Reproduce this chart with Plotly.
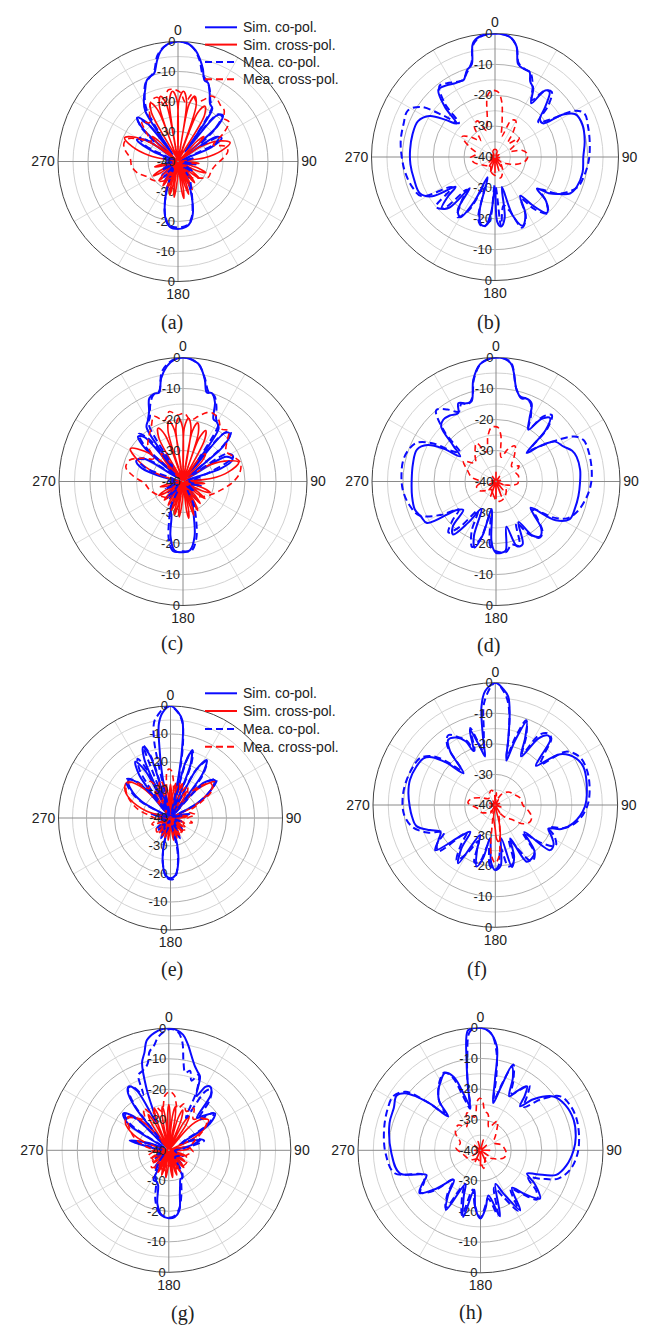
import plotly.graph_objects as go

# ---------------- data: angle (deg, clockwise from 0) and level (dB) ----------------
# Panel (a)
a_sim_co_theta = [-180,-173,-167,-162,-157,-152,-145,-138,-130,-122,-114,-106,-98,-90,-82,-74,-68,-62,-56,-51,-47,-43,-39,-36,-33,-29,-25,-21,-18,-15,-12,-9,-5,0,5,9,12,15,18,21,25,29,33,36,40,44,48,52,57,62,67,72,80,90,100,110,120,130,140,148,154,159,164,168,173,180]
a_sim_co_r = [-17.5,-18,-21,-26,-31,-36,-32,-38,-33,-39,-35,-39,-36,-39,-36,-39,-31,-24.5,-27,-39,-24,-20,-23,-37,-20,-16.5,-14,-11,-10.2,-9.5,-6,-2.8,-0.7,0,-0.6,-2.5,-5,-8,-11.5,-12,-15,-18,-19,-36,-20,-18.5,-22,-38,-25,-23.5,-28,-39,-35,-38,-34,-39,-35,-39,-33,-38,-32,-27,-22,-19.5,-18,-17.5]
a_sim_cross_theta = [-180,-176,-174,-172,-170,-168,-166,-164,-162,-160,-158,-156,-153,-150.5,-148,-145.5,-142,-138,-135,-132,-128,-123,-120,-117,-112,-106,-103,-100,-94,-86,-78,-72,-66,-60,-55,-52,-49,-46,-43,-37,-28.5,-25,-21.5,-20,-18.5,-15,-11.5,-10,-8,-4.5,-1,0,1,4.5,8,9.5,11,14.5,18,20,22,26,30,33,43,46,49,52,57,63,70,76,82,86,92,95,98,102,108,112,116,120,125,128,131,135,139,142,145,149,151,153,155,158,160,162,164,167,169,171,173,176,180]
a_sim_cross_r = [-36,-31,-28,-31,-39.5,-31.5,-28.5,-31.5,-39.5,-32,-29.5,-32,-39.5,-33,-30.5,-33,-39.5,-33.5,-31,-33.5,-39.5,-33,-30.5,-33,-39.5,-34.5,-32,-34.5,-39.5,-39,-30,-24,-20.5,-24,-30,-39.5,-31,-28,-31,-39.5,-21.5,-18.5,-21.5,-39.5,-20.5,-17.5,-20.5,-39.5,-19.5,-16.5,-19.5,-38,-19.5,-16.5,-19.5,-39.5,-20.5,-17.5,-20.5,-39.5,-22.5,-19.5,-22.5,-39.5,-31,-28,-31,-39.5,-31,-25,-21.5,-25,-31,-39.5,-35.5,-33,-35.5,-39.5,-33,-30,-33,-39.5,-34,-31,-34,-39.5,-34,-31,-34,-39.5,-32,-29.5,-32,-39.5,-31.5,-28.5,-31.5,-39.5,-30.5,-27.5,-30.5,-39.5,-36]
a_mea_co_theta = [-180,-172,-166,-160,-154,-146,-138,-128,-118,-108,-98,-88,-78,-70,-64,-58,-52,-47,-43,-39,-35,-31,-27,-23,-19,-15,-11,-7,-3,0,4,8,12,16,20,24,28,32,36,40,44,49,54,59,64,70,78,88,100,112,124,136,146,154,160,166,172,180]
a_mea_co_r = [-18,-18.5,-22,-28,-34,-37,-33,-38,-34,-38,-35,-38,-35,-37,-28,-25,-30,-23,-20.5,-24,-30,-19.5,-15.5,-12,-10.5,-9,-4,-1.5,-0.3,0,-0.4,-2,-5.5,-10,-11.5,-14,-17,-18.5,-30,-19.5,-19,-24,-31,-24,-26,-37,-35,-38,-35,-38,-34,-37,-33,-30,-26,-21,-18.5,-18]
a_mea_cross_theta = [-180,-165,-150,-138,-126,-116,-106,-96,-86,-78,-72,-66,-60,-54,-48,-42,-36,-30,-24,-18,-13,-8,-3,2,7,12,17,22,27,32,37,42,47,52,58,65,72,78,86,96,106,117,128,140,152,166,180]
a_mea_cross_r = [-37,-35,-33,-31,-29.5,-28.5,-26,-24.5,-24,-22,-21,-21.5,-25,-29,-26,-22,-24,-21,-18,-17.5,-21,-16,-16,-17,-20,-17,-19,-18,-15.5,-15.5,-16.5,-17,-19,-18.5,-22,-27,-23.5,-23,-25,-27.5,-28.5,-28.6,-31,-33,-35,-36,-37]

# Panel (b)
b_sim_co_theta = [-180,-176,-172,-168,-164,-160,-155,-150,-145,-141,-138,-134,-130,-127,-122,-116,-105,-95,-85,-75,-65,-58,-53,-49,-45,-40,-34,-29,-25,-22,-18,-14,-11,-7,0,7,11,14,18,22,25,29,34,37,40,45,50,55,58,62,70,80,90,100,110,116,120,124,127,131,137,142,147,152,158,163,167,171,175,178,180]
b_sim_co_r = [-30,-22,-17.5,-17.8,-22,-33,-24,-17.5,-19,-27,-18,-16,-20,-24,-16,-13,-12.8,-12.5,-12.4,-12.3,-12.5,-15,-20,-23.5,-17,-11.5,-12,-12.8,-13,-13,-10.5,-9,-2.5,-0.6,0,-0.8,-3.5,-9,-10,-10.2,-13,-14.5,-19,-13,-12.5,-17,-21,-21,-14,-10.5,-9.8,-10.5,-11.4,-11.2,-11.8,-13,-16,-19,-23,-18,-15.3,-20,-25,-19,-16,-20,-30,-20,-17.4,-19,-30]
b_sim_cross_theta = [-180,-172,-164,-156,-148,-140,-130,-118,-100,-80,-60,-40,-20,0,20,40,60,80,100,118,130,140,148,156,164,172,180]
b_sim_cross_r = [-35,-39.5,-35.5,-39.5,-36.5,-39.5,-37.5,-39.5,-38.5,-39.5,-38.5,-39.5,-38,-37.5,-38,-39.5,-38.5,-39.5,-38.5,-39.5,-37.5,-39.5,-36.5,-39.5,-35.5,-39.5,-35]
b_mea_co_theta = [-180,-175,-170,-165,-160,-154,-148,-143,-139,-135,-130,-125,-118,-110,-100,-90,-80,-70,-62,-56,-51,-47,-43,-38,-33,-28,-23,-18,-14,-11,-7,0,7,11,14,18,23,28,33,37,41,46,51,56,60,64,72,82,92,102,110,116,121,126,131,137,143,148,153,159,165,170,175,180]
b_mea_co_r = [-31,-19,-17,-19,-30,-21,-17,-22,-26,-16.5,-15,-23,-13,-11.5,-10.5,-9.8,-9,-8.5,-8,-11,-19,-24,-16,-10.8,-11.5,-12.5,-13,-11,-8.5,-3,-0.8,0,-0.8,-3.5,-8.5,-9.8,-10.5,-14,-18,-13,-12,-16,-22,-18,-10,-7.8,-8.3,-9,-9.6,-10.5,-11.5,-14,-17,-22,-18,-15,-19,-24,-18,-15.5,-22,-24,-17.5,-31]
b_mea_cross_theta = [-180,-165,-150,-135,-120,-105,-92,-80,-68,-58,-50,-42,-34,-26,-18,-12,-7,-3,0,3,7,12,18,24,30,36,44,52,60,68,76,84,92,100,110,122,136,150,165,180]
b_mea_cross_r = [-34,-35,-37,-36,-35,-33,-32,-34,-31,-27.5,-30,-33,-28,-27,-31,-28,-20,-18.5,-18.5,-19,-22,-29,-33,-27,-26.5,-30,-34,-30,-33,-35,-31,-29.5,-29.5,-30.5,-33,-36,-37,-35,-33,-34]

# Panel (c)
c_sim_co_theta = [-180,-173,-167,-162,-157,-150,-142,-134,-126,-118,-110,-102,-94,-86,-78,-72,-66,-60,-54,-49,-45,-41,-37,-34,-30,-26,-22,-18,-15,-12,-8,-4,0,4,8,12,15,18,22,26,30,34,37,41,45,49,54,60,66,71,76,84,94,104,114,124,134,144,152,158,163,168,174,180]
c_sim_co_r = [-17.2,-17.6,-22,-28,-30,-36,-33,-38,-34,-39,-35,-39,-36,-39,-34,-26,-23.5,-25,-38,-24,-19.5,-21,-36,-19,-17.3,-15,-11,-10.2,-10.3,-6,-2.5,-0.6,0,-0.6,-2,-6.3,-10.3,-10,-12.5,-17.6,-18,-19.5,-36,-19,-18.5,-23,-38,-24,-22.5,-27,-39,-34,-38,-34,-39,-35,-39,-33,-38,-32,-28,-22,-17.8,-17.2]
c_sim_cross_theta = [-180,-176,-174,-172,-170,-168,-166,-164,-162,-160,-158,-156,-153,-150.5,-148,-145.5,-142,-138,-135,-132,-128,-123,-120,-117,-112,-106,-103,-100,-94,-86,-72,-65,-58,-52,-47,-44,-41,-38,-35,-32,-29,-25,-21,-18.5,-16.5,-13,-9.5,-8.5,-7.5,-4,-0.5,0.5,1.5,5,8.5,9.5,10.5,14,17.5,19,20.5,24,27.5,30,35,39,43,47,57,64,71,78,84,88,92,95,98,102,108,112,116,120,125,128,131,135,139,142,145,149,151,153,155,158,160,162,164,167,169,171,173,176,180]
c_sim_cross_r = [-36,-31,-28.5,-31,-39.5,-31.5,-29,-31.5,-39.5,-32,-30,-32,-39.5,-33,-31,-33,-39.5,-33.5,-31.5,-33.5,-39.5,-33,-31,-33,-39.5,-34.5,-32.5,-34.5,-39.5,-39,-30,-24,-20,-24,-30,-39.5,-31,-28.5,-31,-39.5,-24,-21,-24,-39.5,-23,-20,-23,-39.5,-22.5,-19.5,-22.5,-38,-22.5,-19.5,-22.5,-39.5,-23.5,-20.5,-23.5,-39.5,-25,-22,-25,-39.5,-31,-28.5,-31,-39.5,-31,-25,-21,-25,-31,-39.5,-35.5,-33,-35.5,-39.5,-33,-30.5,-33,-39.5,-34,-31,-34,-39.5,-34,-31,-34,-39.5,-32,-29.5,-32,-39.5,-31.5,-28.5,-31.5,-39.5,-30.5,-28,-30.5,-39.5,-36]
c_mea_co_theta = [-180,-172,-166,-160,-154,-146,-136,-124,-112,-100,-88,-78,-70,-64,-58,-52,-47,-43,-39,-35,-31,-27,-23,-19,-15,-11,-7,-3,0,4,8,12,16,20,24,28,32,36,40,44,48,53,58,64,70,78,90,104,118,132,146,155,161,167,173,180]
c_mea_co_r = [-17.5,-17.3,-21,-27,-31,-37,-33,-38,-34,-38,-35,-37,-27,-24,-27,-37,-23,-19,-22,-34,-18.5,-16.5,-13,-10.5,-10,-4,-1.5,-0.3,0,-0.5,-2.2,-6,-10,-10.5,-13.5,-17.2,-18.5,-32,-20,-17.8,-22,-36,-23,-22,-30,-36,-38,-35,-38,-35,-38,-32,-27,-21,-17.5,-17.5]
c_mea_cross_theta = [-180,-160,-140,-120,-105,-93,-84,-76,-68,-60,-52,-45,-38,-31,-24,-17,-11,-5,1,7,13,19,24,30,36,42,48,55,63,72,82,91,97,105,115,128,142,156,170,180]
c_mea_cross_r = [-37,-34,-33,-31,-29,-27.6,-24,-21,-21.5,-25,-28,-24,-22,-20,-17,-19.5,-17,-18.5,-18,-20,-18.5,-16.5,-16,-17,-19,-18,-21,-23,-22,-20.5,-21.6,-24,-25.9,-28,-30,-32,-34,-35,-36,-37]

# Panel (d)
d_sim_co_theta = [-180,-176,-171,-166,-162,-158,-152,-146,-141,-136,-131,-126,-121,-115,-109,-100,-89,-78,-68,-62,-58,-55,-50,-45,-40.5,-35,-29,-25.7,-21,-17,-12.6,-7.7,0,7,12.7,17,20,24.5,28,32,36,40.4,44,47,51,56,62.5,68,73,82,91,100,109,117,123,127,131,136,141,146,151,157,162,167,172,176,180]
d_sim_co_r = [-17,-20,-31,-22,-17.6,-21,-30,-24,-18,-20,-26,-24.4,-14,-13.3,-12.3,-12.5,-12.8,-12.6,-12.5,-15,-20,-25.9,-22,-15,-13.8,-14,-14.8,-12,-13,-13,-6.4,-1.8,0,-1.5,-9.7,-12,-11.5,-12.3,-17,-20.3,-15,-13.1,-17,-26.5,-22,-17,-15.5,-13.5,-12.8,-12.6,-12.9,-13,-13.1,-13.3,-17,-26,-24,-19,-17.3,-19,-25,-18,-18,-25,-17.5,-16.9,-17]
d_sim_cross_theta = [-180,-170,-160,-150,-140,-128,-114,-96,-76,-56,-36,-18,0,18,36,56,76,96,114,128,140,150,160,170,180]
d_sim_cross_r = [-34.5,-39.5,-35,-39.5,-36.5,-39.5,-37.5,-39.5,-38.5,-39.5,-38,-39.5,-37,-39.5,-38,-39.5,-38.5,-39.5,-37.5,-39.5,-36.5,-39.5,-35,-39.5,-34.5]
d_mea_co_theta = [-180,-175,-170,-165,-160,-154,-148,-142,-137,-132,-127,-121,-114,-105,-95,-85,-77,-70,-64,-59,-55,-51,-46,-40,-34,-28,-24,-20,-16,-12,-7,0,7,12,16,20,24,28,32,36,40,44,47,51,56,60,64.5,72,83,92,101,110,117,122,127,132,137,142,148,154,160,166,172,180]
d_mea_co_r = [-17.5,-19,-29,-21,-17.5,-22,-29,-22,-17.5,-21,-25,-19,-13,-11,-9.8,-9.4,-9.3,-10,-11.5,-16,-23,-25,-17,-10,-12,-14.5,-12.5,-13.5,-12,-6,-1.5,0,-1.2,-9,-11.5,-11.5,-12.5,-16,-20,-14,-12,-16,-25,-22,-16,-11,-8.8,-8.6,-8.9,-9.4,-10.5,-12,-14,-18,-25,-22,-18,-17,-20,-25,-18,-19,-17,-17.5]
d_mea_cross_theta = [-180,-165,-150,-135,-120,-105,-92,-80,-68,-58,-48,-38,-27,-18,-10,-5,-1,2,6,12,20,28,36,46,56,66,76,84,90,96,104,114,126,140,155,170,180]
d_mea_cross_r = [-34,-36,-37,-36,-34,-33.5,-35,-32,-30,-27.6,-31,-29,-26.1,-30,-25,-22.5,-22.3,-22.5,-25,-32,-29,-27,-30,-33,-31,-33,-32.5,-32.8,-32.8,-33,-35,-37,-36,-35,-34,-33.5,-34]

# Panel (e)
e_sim_co_theta = [-180,-175,-170,-166,-163,-158,-155,-152,-148,-140,-135,-130,-125,-110,-95,-85,-78,-72,-66,-60,-54,-48,-43,-40,-38,-36,-32,-28,-26,-24,-21,-18,-15.5,-11,-9,-7,-4,0,4,7,9.5,11,13,15,17.7,20.5,23,28,32,36,39,43,49.5,56,62,66,72,78,84,90,105,120,130,135,140,147,152,155,158,163,166,170,175,180]
e_sim_co_r = [-18.5,-19.5,-24,-30,-39.5,-35,-32,-35,-39.5,-36,-34,-36,-39.5,-36,-39.5,-37,-33,-37,-39.5,-28,-22.5,-19.8,-22.5,-28,-39.5,-21,-16.3,-21,-39.5,-17,-12.8,-17,-39.5,-25,-15,-6,-2,0,-2,-5,-15,-25,-39.5,-19.5,-15.2,-19.5,-39.5,-20.5,-15.6,-20.5,-39.5,-23,-19.2,-23,-30,-39.5,-37,-33,-37,-39.5,-36,-39.5,-36,-34,-36,-39.5,-35,-32,-35,-39.5,-30,-24,-19.5,-18.5]
e_sim_cross_theta = [-180,-176,-174,-172,-169,-166,-164,-162,-159,-156,-154,-152,-149,-146,-143,-140,-136,-132,-129,-126,-122,-116,-113,-110,-105,-96,-92,-88,-83,-74,-65,-57,-50,-44,-39,-36,-33,-30,-27,-24.5,-22,-19,-16,-13.5,-11,-8.5,-6,-4,-2,0,2,4,6,8.5,11,13.5,16,19,22,25,28,31,34,37,40,45,51,57,64,70,78,84,90,95,104,108,112,116,122,125,128,132,136,139,142,146,150,152,154,157,160,162,164,167,170,172,174,177,180]
e_sim_cross_r = [-37,-34,-32,-34,-39.5,-34.5,-32.5,-34.5,-39.5,-35,-33,-35,-39.5,-35,-33.5,-35.5,-39.5,-36,-34.5,-36,-39.5,-36.5,-35,-36.5,-39.5,-37,-35.5,-37,-39.5,-31,-24,-20.5,-20,-24,-31,-39.5,-32,-29,-32,-39.5,-31,-27.5,-31,-39.5,-31,-28,-31,-39.5,-31,-28,-31,-39.5,-31,-27.5,-31,-39.5,-31,-27,-31,-39.5,-32,-29,-32,-39.5,-31,-24,-19.5,-24,-31,-39.5,-36,-34,-36.5,-39.5,-37,-35,-37,-39.5,-36,-34.5,-36,-39.5,-35.5,-33.5,-35.5,-39.5,-35,-33,-35,-39.5,-34.5,-32.5,-34.5,-39.5,-34,-32,-34,-39.5,-37]
e_mea_co_theta = [-180,-176,-171,-166,-162,-150,-138,-126,-110,-95,-80,-68,-61,-55,-49,-43,-39,-37,-33,-29,-26,-23.5,-20.5,-17.5,-15,-12,-9.5,-7,-4,0,4,7,9.5,11.5,13.5,15.5,18,21,23.5,28,32.5,37,40,44,50,56,62,66,76,90,110,130,150,163,168,172,176,180]
e_mea_co_r = [-18,-18.8,-23,-30,-39,-34,-37,-34,-38,-36,-37,-39,-28,-22,-19,-22,-29,-39,-20,-15.8,-21,-39,-12.5,-17,-39,-12,-5,-3,-1,0,-2.2,-5.5,-13,-24,-39,-19,-14.5,-19,-39,-20.5,-16,-21,-39,-23,-18.5,-23,-30,-39,-36,-39,-36,-38,-35,-38,-28,-22,-18.5,-18]
e_mea_cross_theta = [-180,-165,-150,-135,-120,-108,-96,-85,-75,-66,-57,-50,-43,-36,-29,-22,-15,-9,-5,-2,1,4,8,14,21,28,35,42,49,56,63,72,82,92,102,114,126,138,150,165,180]
e_mea_cross_r = [-36,-34,-35,-33,-34,-33,-35,-33,-28,-24,-21,-20.5,-23,-27,-25,-28,-26,-30,-24,-22.5,-23,-26,-31,-27,-30,-27,-29,-25,-21,-22,-28,-33,-31,-34,-32,-35,-33,-34,-33,-35,-36]

# Panel (f)
f_sim_co_theta = [-180,-176,-171,-167,-163,-158,-153,-147.6,-142,-137,-132,-127,-122,-116,-111,-105,-98,-91,-82,-73.7,-64,-57,-53,-49,-45,-40,-35.9,-30,-25,-22,-18.7,-15,-12,-10.5,-8,-5,0,4,6.8,9,11.3,14,17,20.6,24,28,33,37,40,43,46,52,60,66.5,76.7,91,103,110,114,119,124,129.5,133,140,146,151,156,160,165,170,175,180]
f_sim_co_r = [-18.7,-21,-29,-22,-19,-24,-29,-17.4,-22,-28,-25,-15.4,-18,-20,-17.1,-13.3,-12.5,-12,-11.3,-10.9,-11.3,-12,-14,-19,-25.3,-17,-13.7,-14.5,-17,-21,-14,-20,-23.8,-18.4,-7.5,-2.5,0,-2,-4.3,-10,-18.7,-25,-18,-10.9,-16,-22,-14,-11.5,-12,-18,-21.5,-13,-9.5,-8.6,-9.3,-10.7,-13.8,-17,-21,-19,-17,-16.8,-27,-20,-18.8,-18.8,-28,-22,-19,-29,-20,-18.7]
f_sim_cross_theta = [-180,-172,-165,-150,-130,-110,-90,-70,-50,-30,-10,0,10,30,50,70,90,110,130,150,162,168,172,175,178,180]
f_sim_cross_r = [-32,-36,-39.5,-37,-39.5,-38,-39.5,-38,-39.5,-38.5,-39.5,-37,-39.5,-38,-39.5,-38.5,-39.5,-38,-39.5,-37,-39.5,-33,-29,-28,-29,-32]
f_mea_co_theta = [-180,-175,-170,-165,-160,-155,-150,-145,-139,-134,-129,-124,-118,-112,-105,-96,-86,-76,-66,-58,-52,-48,-44,-39,-34,-28,-24,-21,-18,-15,-12.5,-9,-6,0,5,8,11,13.5,16.5,20,24,28,32,36,40,44,48,53,60,68,78,90,101,108,113,118,124,130,135,141,147,153,158,163,168,173,177,180]
f_mea_co_r = [-19,-20,-27,-21,-20,-27,-22,-18,-23,-27,-16,-17,-21,-16,-12,-10,-9.6,-9.8,-10.3,-11,-14,-19,-24,-15,-12.5,-15,-17,-21,-13.5,-19,-22,-16,-6,0,-3.5,-8,-17,-24,-17,-10.5,-15,-21,-13,-11,-11.5,-17,-20,-11,-8.3,-7.9,-8.5,-9.8,-12.5,-16,-21,-18,-16.2,-21,-27,-19.5,-18,-24,-28,-20,-19.5,-26,-20,-19]
f_mea_cross_theta = [-180,-175,-168,-155,-140,-120,-100,-85,-75,-62,-45,-30,-15,-5,0,5,15,30,45,60,75,90,100,108,116,124,132,142,155,165,172,176,180]
f_mea_cross_r = [-21,-24,-36,-38,-37,-35,-34,-31,-32,-35,-37,-36,-35,-36,-40,-36,-38,-36,-34,-33,-31.5,-31,-29,-27.5,-27.4,-29,-33,-35,-37,-35,-29,-23,-21]

# Panel (g)
g_sim_co_theta = [-180,-174,-168,-163,-158,-153,-148,-140,-130,-120,-110,-100,-90,-82,-76,-70,-64,-57,-51,-46,-42,-38,-35,-32,-28,-24,-20,-17,-14,-11.3,-7,-3,0,3,7,10,13.8,17,20,23,27,30,33,37,41,45,51.4,57,62,66,72,78,84,90,100,112,124,136,146,153,158,162,166,170,175,180]
g_sim_co_r = [-17.7,-18.5,-22,-28,-29,-29,-35,-33,-38,-35,-39,-36,-39,-35,-26.8,-33,-39,-24,-20.8,-24,-38,-22,-16.5,-15.3,-18,-30,-19,-10,-7,-3.2,-1.2,-0.2,0,-0.3,-1.8,-4.5,-8.4,-11,-12.5,-13.8,-20,-16,-15.1,-17,-26,-24,-20.6,-24,-36,-33,-29.2,-33,-39,-36,-39,-35,-39,-34,-38,-30,-29.8,-28,-25,-20,-18,-17.7]
g_sim_cross_theta = [-180,-176,-174,-172,-169,-166,-164,-162,-159,-156,-154,-152,-149,-146,-143,-140,-136,-132,-129,-126,-122,-116,-113,-110,-105,-96,-92,-88,-83,-72,-64,-57,-50,-44,-39,-36,-33,-30,-27,-24.5,-22,-19,-16,-13.5,-11,-8.5,-6,-4,-2,0,2,4,6,8.5,11,13.5,16,19,22,25,28,31,34,37,41,46,52.6,58,65,70,78,84,90,95,104,108,112,116,122,125,128,132,136,139,142,146,150,152,154,157,160,162,164,167,170,172,174,177,180]
g_sim_cross_r = [-36,-33,-31,-33,-39.5,-33.5,-31.5,-33.5,-39.5,-34,-32,-34,-39.5,-34,-32.5,-34.5,-39.5,-35,-33.5,-35,-39.5,-35.5,-34,-35.5,-39.5,-36,-34.5,-36,-39.5,-32,-26,-23,-22.8,-26,-32,-39.5,-30,-26.5,-30,-39.5,-29,-25.5,-29,-39.5,-29,-25.5,-29,-39.5,-28.5,-25,-28.5,-39.5,-29,-25.5,-29,-39.5,-29,-26,-29,-39.5,-30,-27,-30,-39.5,-30,-25.5,-23.6,-26,-32,-39.5,-35,-33,-35.5,-39.5,-36,-34,-36,-39.5,-35,-33.5,-35,-39.5,-34.5,-32.5,-34.5,-39.5,-34,-32,-34,-39.5,-33.5,-31.5,-33.5,-39.5,-33,-31,-33,-39.5,-36]
g_mea_co_theta = [-180,-172,-165,-158,-150,-140,-125,-110,-95,-82,-76,-70,-62,-56,-51,-46,-41,-37,-33,-29,-25,-22,-18,-14,-11,-8.4,-5,0,4,7,9.6,12,15,18,21.5,25,28,32,35,39,44,50,56,61,68,75,82,95,115,135,150,158,164,170,176,180]
g_mea_co_r = [-18,-19,-23,-29,-31,-35,-38,-36,-38,-36,-27.5,-34,-38,-25,-21.5,-25,-36,-21,-15.5,-16.5,-20,-13.4,-12.5,-11,-7,-5.6,-2.5,-0.3,-0.8,-4,-11,-14,-13,-16,-13.4,-18,-28,-17,-15.8,-18.5,-26,-21,-24,-35,-30,-28,-35,-38,-36,-37,-31,-29,-25,-20.5,-18.2,-18]
g_mea_cross_theta = [-180,-165,-150,-135,-120,-105,-92,-80,-70,-60,-52,-45,-38,-31,-24,-17,-10,-4,1,6,12,18,24,31,38,45,52,60,70,82,94,106,120,135,150,165,180]
g_mea_cross_r = [-35,-33,-34,-32,-34,-33,-35,-32,-28,-25,-23,-25,-27,-24,-27,-25,-27,-22,-20.8,-22,-26,-24,-26,-24,-27,-25,-24,-27,-31,-33,-32,-34,-33,-33,-34,-33,-35]

# Panel (h)
h_sim_co_theta = [-180,-175,-171,-165.5,-160,-156,-150,-144,-138,-131,-125,-120,-114.6,-106,-92,-73.4,-64,-57,-53,-50,-47,-43.7,-40,-35,-30,-24.7,-20,-16,-13.5,-11.4,-9,-6,-3,0,4,8.9,11.6,15,18,20.4,24,28,32,36,39,42,46,53.6,62,72,82,90,100,108,113,116.5,122,129,135,140,146.5,152,156,163.6,170,175,180]
h_sim_co_r = [-17.7,-21,-27,-17.5,-24,-28,-17.5,-22,-27,-21,-15.7,-18,-20.6,-12.6,-10.9,-9,-8.5,-7.3,-9,-12.7,-18,-24.7,-19,-16,-14,-12.2,-14.5,-22,-25.2,-19.8,-11.1,-0.6,0,0,-1,-5.6,-16.5,-24,-18,-10.7,-14,-20,-17,-14.2,-17,-20.7,-16,-10.4,-8.6,-8,-8.6,-9.6,-11.5,-14,-20,-23,-19,-15,-20,-24,-16.5,-24,-28,-17.5,-25,-21,-17.7]
h_sim_cross_theta = [-180,-168,-155,-140,-125,-110,-90,-70,-50,-30,-15,0,15,30,50,70,90,110,125,140,155,168,180]
h_sim_cross_r = [-35,-39.5,-36,-39.5,-37,-39.5,-38,-39.5,-37.5,-39.5,-37,-39.5,-36.5,-39.5,-37.5,-39.5,-37,-39.5,-37,-39.5,-36,-39.5,-35]
h_mea_co_theta = [-180,-174,-169,-164,-159,-154,-149,-143,-137,-131,-125,-119,-113,-105,-92,-78,-66,-58,-52,-48,-44,-40,-35,-30,-25,-21,-17,-14,-11,-8,-5,0,5,9,12,15,18,21,25,29,33,37,41,45,50,56,64,72,82,92,102,110,115,120,126,131,137,142,148,154,160,165,171,176,180]
h_mea_co_r = [-18,-22,-27,-18,-23,-27,-18,-22,-27,-20,-16,-19,-19.5,-11,-9,-7.8,-6.8,-6.5,-9,-16,-23,-19,-16,-13.5,-12,-14.5,-23,-26,-18,-9,-1,0,-1.5,-7,-15,-23,-17,-10,-14.5,-19,-16.5,-13.5,-17,-20,-14,-8.5,-7.2,-7,-7.5,-8.3,-10,-13,-18,-22,-17.5,-15.5,-21,-24,-16.8,-23,-27,-18,-24,-21,-18]
h_mea_cross_theta = [-180,-160,-140,-120,-100,-85,-70,-55,-42,-30,-20,-10,-4,-1,2,6,12,20,30,45,60,75,88,98,108,118,130,145,160,170,180]
h_mea_cross_r = [-36,-37,-36,-35,-34,-32,-33,-30,-29,-31,-27,-29,-24,-23,-23.5,-27,-28,-32,-29,-33,-35,-33,-32,-31.5,-32,-34,-36,-37,-36,-34,-36]

series_names = ['Sim. co-pol.', 'Sim. cross-pol.', 'Mea. co-pol.', 'Mea. cross-pol.']
radial_ticks = [-40, -30, -20, -10, 0]
angular_ticks = [0, 90, 180, 270]

# ---------------- layout ----------------
W, H = 653, 1326
FONT = "Arial, 'Liberation Sans', Helvetica, sans-serif"
SERIF = "'Times New Roman', 'Liberation Serif', Times, serif"
BLUE = '#0b0bff'
RED = '#ff0b0b'
STYLES = [
    dict(color=BLUE, width=2.0, dash='solid'),
    dict(color=RED, width=1.6, dash='solid'),
    dict(color=BLUE, width=2.0, dash='7px,4px'),
    dict(color=RED, width=1.6, dash='6px,4px'),
]

g = globals()
panels = [
    ('a', 178, 161.5, 120, 172, 322, 'a'),
    ('b', 495, 157, 123.5, 488, 322, None),
    ('c', 183, 481.5, 124, 172, 643, None),
    ('d', 496, 481.5, 124, 488, 645, None),
    ('e', 170.5, 818, 112, 172, 970, 'e'),
    ('f', 495.3, 805, 122.3, 477, 970, None),
    ('g', 168.8, 1150.3, 122, 182, 1313, None),
    ('h', 480.5, 1150.3, 122.5, 470, 1312, None),
]
# legend key rows (pixel y of each row) for the two panels carrying a key
legend_rows = {'a': [27.3, 44.6, 62.0, 79.3], 'e': [693.3, 711.0, 729.0, 746.7]}
LEG_X0, LEG_X1, LEG_TX = 205, 237, 241

fig = go.Figure()
lay = {}
annotations = []
shapes = []
n = 0
for key, cx, cy, R, capx, capy, leg in panels:
    dom = dict(x=[(cx - R) / W, (cx + R) / W], y=[1 - (cy + R) / H, 1 - (cy - R) / H])
    ids = []
    for _ in range(3):
        n += 1
        ids.append('polar' if n == 1 else 'polar%d' % n)
    lay[ids[0]] = dict(
        domain=dom, bgcolor='white',
        angularaxis=dict(rotation=90, direction='clockwise', tickvals=[30, 60, 120, 150, 210, 240, 300, 330],
                         showticklabels=False, ticks='', gridcolor='#dcdcdc', gridwidth=1, showline=False),
        radialaxis=dict(range=[-40, 0], tickvals=[-35, -25, -15, -5], showticklabels=False, ticks='',
                        gridcolor='#d2d2d2', gridwidth=1, showline=False),
    )
    lay[ids[1]] = dict(
        domain=dom, bgcolor='rgba(0,0,0,0)',
        angularaxis=dict(rotation=90, direction='clockwise', tickvals=angular_ticks,
                         ticktext=[str(v) for v in angular_ticks], ticks='',
                         tickfont=dict(family=FONT, size=14, color='#222'),
                         gridcolor='#8a8a8a', gridwidth=1, showline=True, linecolor='#444', linewidth=1),
        radialaxis=dict(range=[-40, 0], angle=270, tickangle=-90, side='clockwise',
                        tickvals=radial_ticks[1:], ticktext=[str(v) for v in radial_ticks[1:]],
                        tickfont=dict(family=FONT, size=13, color='#222'), ticks='',
                        gridcolor='#b0b0b0', gridwidth=1, showline=False),
    )
    lay[ids[2]] = dict(
        domain=dom, bgcolor='rgba(0,0,0,0)',
        angularaxis=dict(rotation=90, direction='clockwise', showgrid=False, showline=False,
                         showticklabels=False, ticks=''),
        radialaxis=dict(range=[-40, 0], angle=90, tickangle=90, side='counterclockwise',
                        tickvals=radial_ticks, ticktext=[str(v) for v in radial_ticks],
                        tickfont=dict(family=FONT, size=13, color='#222'), ticks='',
                        showgrid=False, showline=False),
    )
    # invisible anchor traces so the two frame-only polar subplots are drawn
    for sp in ids[:2]:
        fig.add_trace(go.Scatterpolar(r=[radial_ticks[0]], theta=[angular_ticks[0]], subplot=sp,
                                      mode='markers', marker=dict(size=1, opacity=0),
                                      showlegend=False, hoverinfo='skip'))
    kinds = ['sim_co', 'sim_cross', 'mea_co', 'mea_cross']
    for i, kind in enumerate(kinds):
        th = g['%s_%s_theta' % (key, kind)]
        rr = g['%s_%s_r' % (key, kind)]
        assert len(th) == len(rr), (key, kind, len(th), len(rr))
        fig.add_trace(go.Scatterpolar(theta=th, r=rr, subplot=ids[2], mode='lines',
                                      line=dict(shape='spline', smoothing=1.0, **STYLES[i]),
                                      name=series_names[i], hoverinfo='skip', showlegend=False))
        if leg is not None:
            yy = 1 - legend_rows[leg][i] / H
            st = STYLES[i]
            shapes.append(dict(type='line', xref='paper', yref='paper', x0=LEG_X0 / W, x1=LEG_X1 / W,
                               y0=yy, y1=yy, line=dict(color=st['color'], width=2,
                                                       dash=('solid' if st['dash'] == 'solid' else '7px,4px'))))
            annotations.append(dict(x=LEG_TX / W, y=yy, xref='paper', yref='paper', text=series_names[i],
                                    showarrow=False, xanchor='left', yanchor='middle',
                                    font=dict(family=FONT, size=14, color='#222')))
    annotations.append(dict(x=capx / W, y=1 - capy / H, xref='paper', yref='paper', text='(%s)' % key,
                            showarrow=False, xanchor='center', yanchor='middle',
                            font=dict(family=SERIF, size=20, color='#222')))

fig.update_layout(
    width=W, height=H, margin=dict(l=0, r=0, t=0, b=0),
    paper_bgcolor='white', plot_bgcolor='white', showlegend=False,
    font=dict(family=FONT, size=13, color='#222'),
    annotations=annotations, shapes=shapes,
    **lay,
)
fig.write_html('out.html')
